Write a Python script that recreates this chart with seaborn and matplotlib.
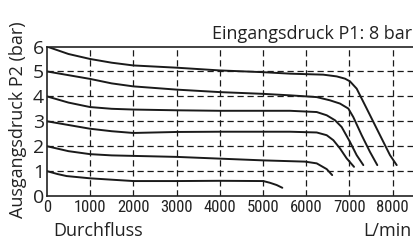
import matplotlib
matplotlib.use("Agg")
import matplotlib.pyplot as plt
from matplotlib import font_manager as fm
import seaborn as sns
import pandas as pd

# Curves: outlet pressure P2 (bar) vs flow (L/min) at inlet pressure 8 bar
flow_6 = [0, 500, 1000, 1500, 2000, 3000, 4000, 5000, 5630, 6395, 6705, 6896, 7012, 7166, 7398, 7706, 7937, 8092]
p2_6 = [6.0, 5.7, 5.5, 5.35, 5.24, 5.15, 5.04, 4.97, 4.91, 4.87, 4.8, 4.71, 4.6, 4.31, 3.51, 2.44, 1.64, 1.24]
flow_5 = [0, 500, 1000, 1500, 2000, 3000, 4000, 5000, 5625, 6242, 6549, 6780, 6973, 7088, 7282, 7474, 7643]
p2_5 = [5.0, 4.85, 4.7, 4.52, 4.4, 4.27, 4.17, 4.1, 4.04, 3.97, 3.84, 3.71, 3.51, 3.17, 2.44, 1.77, 1.24]
flow_4 = [0, 500, 1000, 1500, 2000, 3000, 4000, 5000, 5625, 6242, 6473, 6665, 6819, 7012, 7166, 7320]
p2_4 = [4.0, 3.75, 3.57, 3.5, 3.47, 3.44, 3.42, 3.42, 3.42, 3.37, 3.24, 3.04, 2.77, 2.17, 1.64, 1.24]
flow_3 = [0, 500, 1000, 1500, 2000, 3000, 4000, 5000, 5625, 6242, 6473, 6627, 6780, 6935, 7105]
p2_3 = [3.0, 2.85, 2.7, 2.6, 2.53, 2.57, 2.58, 2.58, 2.58, 2.55, 2.44, 2.24, 1.91, 1.51, 1.17]
flow_2 = [0, 500, 1000, 1500, 2000, 3000, 4000, 5000, 5970, 6242, 6473, 6600]
p2_2 = [2.0, 1.8, 1.68, 1.63, 1.61, 1.57, 1.5, 1.43, 1.38, 1.31, 1.08, 0.84]
flow_1 = [0, 250, 460, 1000, 2000, 3000, 4000, 5007, 5162, 5317, 5447]
p2_1 = [1.0, 0.88, 0.8, 0.71, 0.6, 0.6, 0.61, 0.6, 0.53, 0.44, 0.33]

x_ticks = [0, 1000, 2000, 3000, 4000, 5000, 6000, 7000, 8000]
y_ticks = [0, 1, 2, 3, 4, 5, 6]
title = "Eingangsdruck P1: 8 bar"
y_label = "Ausgangsdruck P2 (bar)"
x_label = "Durchfluss"
x_unit = "L/min"

curves = [(flow_6, p2_6, "6"), (flow_5, p2_5, "5"), (flow_4, p2_4, "4"),
          (flow_3, p2_3, "3"), (flow_2, p2_2, "2"), (flow_1, p2_1, "1")]
frames = []
for fx, fy, name in curves:
    frames.append(pd.DataFrame({"flow": fx, "p2": fy, "curve": name}))
df = pd.concat(frames, ignore_index=True)

sns.set_style("white")
plt.rcParams["font.family"] = ["Open Sans", "DejaVu Sans"]

# pick a narrow face for the x tick labels if one is installed
names = {f.name for f in fm.fontManager.ttflist}
narrow = None
for cand in ["Liberation Sans Narrow", "DejaVu Sans Condensed", "Roboto Condensed", "Open Sans Condensed"]:
    if cand in names:
        narrow = cand
        break
condensed_dejavu = [f for f in fm.fontManager.ttflist
                    if f.name == "DejaVu Sans" and "ondensed" in f.fname and f.weight in (400, "normal")]
if narrow is not None:
    xtick_font = fm.FontProperties(family=narrow, size=12)
elif condensed_dejavu:
    xtick_font = fm.FontProperties(fname=condensed_dejavu[0].fname, size=11)
else:
    xtick_font = fm.FontProperties(family="Roboto", size=10.5)

fig = plt.figure(figsize=(4.13, 2.44), dpi=100)
ax = fig.add_axes([0.1133, 0.1967, 0.8867, 0.6127])

sns.lineplot(data=df, x="flow", y="p2", hue="curve", palette=["#1a1a1a"] * 6,
             sort=False, estimator=None, legend=False, linewidth=1.4, ax=ax)
for line in ax.lines:
    line.set_solid_joinstyle("round")

ax.set_xlim(0, 8469)
ax.set_ylim(0, 6)
for v in x_ticks[1:]:
    ax.axvline(v, color="#1a1a1a", lw=0.9, ls=(0, (5, 3)), zorder=0)
for v in y_ticks[1:-1]:
    ax.axhline(v, color="#1a1a1a", lw=0.9, ls=(0, (5, 3)), zorder=0)

ax.set_xticks(x_ticks)
ax.set_xticklabels([str(t) for t in x_ticks])
for lab in ax.get_xticklabels():
    lab.set_fontproperties(xtick_font)
ax.set_yticks(y_ticks)
ax.set_yticklabels([str(t) for t in y_ticks], fontsize=14)
ax.tick_params(axis="both", length=0, colors="#222222")
ax.tick_params(axis="x", pad=3)
ax.tick_params(axis="y", pad=2)
ax.set_xlabel("")
ax.set_ylabel("")

for s in ["left", "top", "bottom"]:
    ax.spines[s].set_color("#222222")
    ax.spines[s].set_linewidth(1.2)
ax.spines["right"].set_visible(False)

fig.text(0.997, 0.84, title, ha="right", va="baseline", fontsize=13, color="#222222")
fig.text(0.043, 0.508, y_label, rotation=90, ha="center", va="center", fontsize=13, color="#222222")
fig.text(0.128, 0.033, x_label, ha="left", va="baseline", fontsize=13, color="#222222")
fig.text(0.997, 0.033, x_unit, ha="right", va="baseline", fontsize=13, color="#222222")

fig.savefig("out.png", dpi=100)
